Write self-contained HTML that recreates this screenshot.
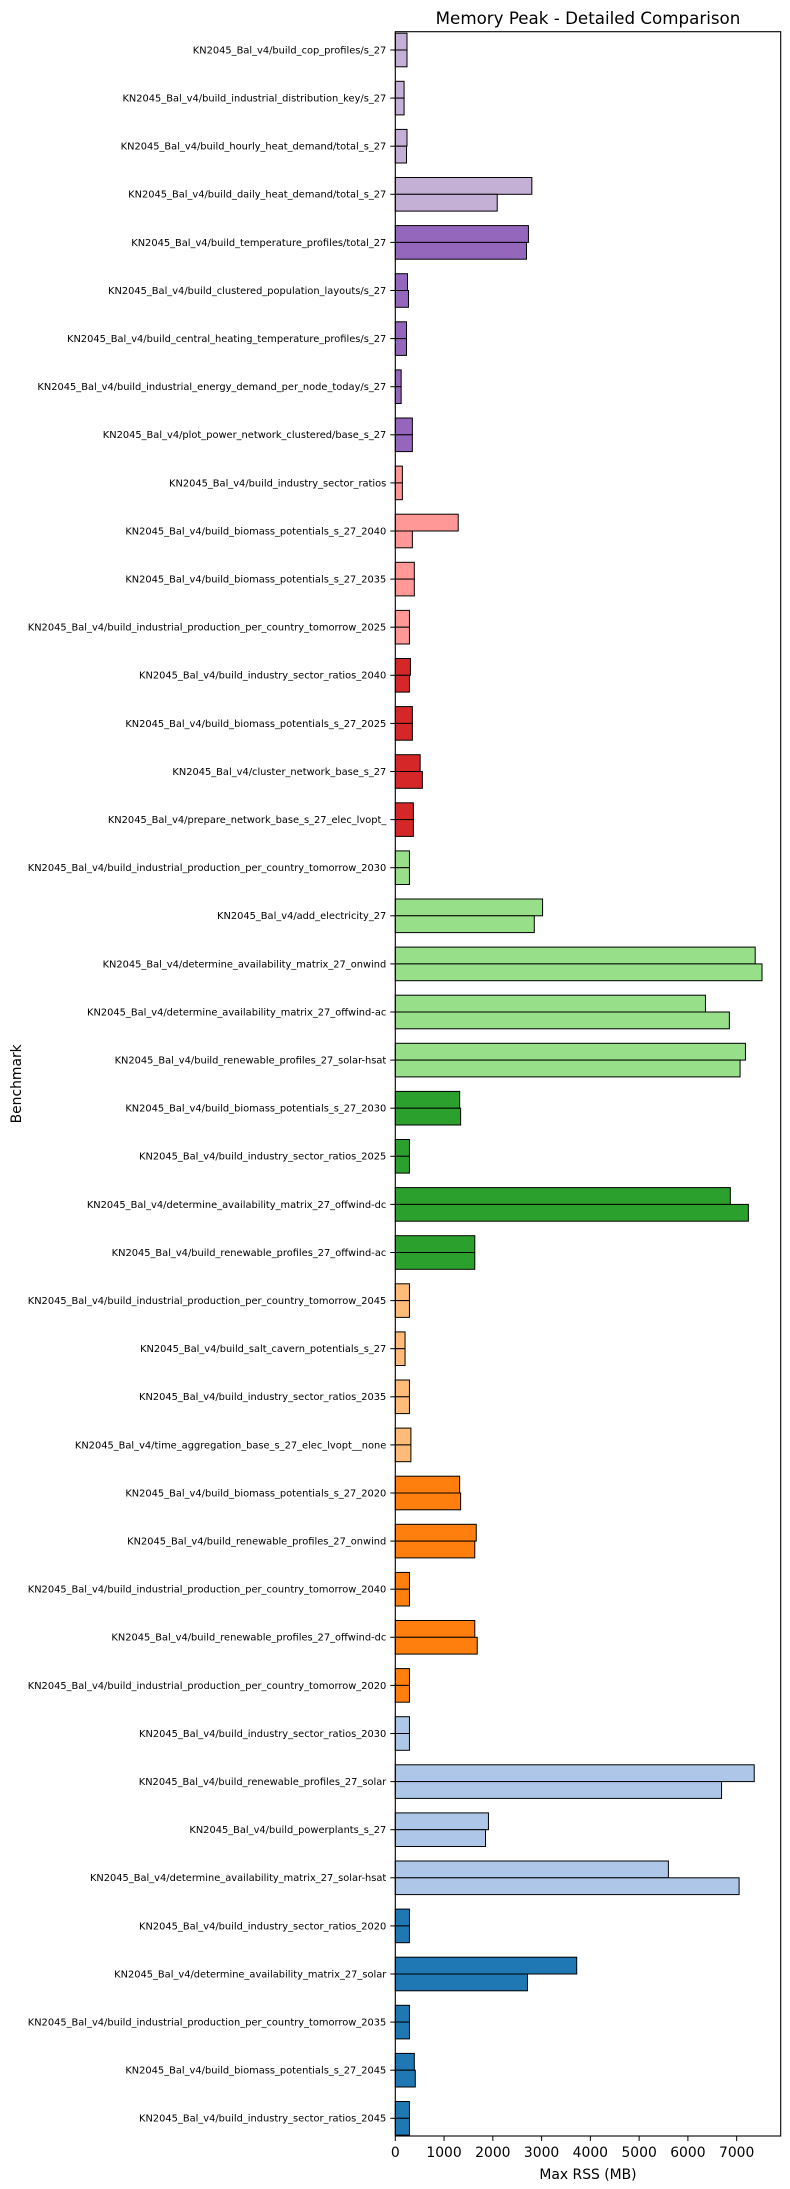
<!DOCTYPE html>
<html><head><meta charset="utf-8"><style>
body{margin:0;background:#fff;}
svg{display:block;font-family:"DejaVu Sans","Liberation Sans",sans-serif;}
</style></head><body>
<svg id="chart" width="790" height="2189" viewBox="0 0 790 2189" xmlns="http://www.w3.org/2000/svg"></svg>
<script>
const categories = [
"KN2045_Bal_v4/build_cop_profiles/s_27",
"KN2045_Bal_v4/build_industrial_distribution_key/s_27",
"KN2045_Bal_v4/build_hourly_heat_demand/total_s_27",
"KN2045_Bal_v4/build_daily_heat_demand/total_s_27",
"KN2045_Bal_v4/build_temperature_profiles/total_27",
"KN2045_Bal_v4/build_clustered_population_layouts/s_27",
"KN2045_Bal_v4/build_central_heating_temperature_profiles/s_27",
"KN2045_Bal_v4/build_industrial_energy_demand_per_node_today/s_27",
"KN2045_Bal_v4/plot_power_network_clustered/base_s_27",
"KN2045_Bal_v4/build_industry_sector_ratios",
"KN2045_Bal_v4/build_biomass_potentials_s_27_2040",
"KN2045_Bal_v4/build_biomass_potentials_s_27_2035",
"KN2045_Bal_v4/build_industrial_production_per_country_tomorrow_2025",
"KN2045_Bal_v4/build_industry_sector_ratios_2040",
"KN2045_Bal_v4/build_biomass_potentials_s_27_2025",
"KN2045_Bal_v4/cluster_network_base_s_27",
"KN2045_Bal_v4/prepare_network_base_s_27_elec_lvopt_",
"KN2045_Bal_v4/build_industrial_production_per_country_tomorrow_2030",
"KN2045_Bal_v4/add_electricity_27",
"KN2045_Bal_v4/determine_availability_matrix_27_onwind",
"KN2045_Bal_v4/determine_availability_matrix_27_offwind-ac",
"KN2045_Bal_v4/build_renewable_profiles_27_solar-hsat",
"KN2045_Bal_v4/build_biomass_potentials_s_27_2030",
"KN2045_Bal_v4/build_industry_sector_ratios_2025",
"KN2045_Bal_v4/determine_availability_matrix_27_offwind-dc",
"KN2045_Bal_v4/build_renewable_profiles_27_offwind-ac",
"KN2045_Bal_v4/build_industrial_production_per_country_tomorrow_2045",
"KN2045_Bal_v4/build_salt_cavern_potentials_s_27",
"KN2045_Bal_v4/build_industry_sector_ratios_2035",
"KN2045_Bal_v4/time_aggregation_base_s_27_elec_lvopt__none",
"KN2045_Bal_v4/build_biomass_potentials_s_27_2020",
"KN2045_Bal_v4/build_renewable_profiles_27_onwind",
"KN2045_Bal_v4/build_industrial_production_per_country_tomorrow_2040",
"KN2045_Bal_v4/build_renewable_profiles_27_offwind-dc",
"KN2045_Bal_v4/build_industrial_production_per_country_tomorrow_2020",
"KN2045_Bal_v4/build_industry_sector_ratios_2030",
"KN2045_Bal_v4/build_renewable_profiles_27_solar",
"KN2045_Bal_v4/build_powerplants_s_27",
"KN2045_Bal_v4/determine_availability_matrix_27_solar-hsat",
"KN2045_Bal_v4/build_industry_sector_ratios_2020",
"KN2045_Bal_v4/determine_availability_matrix_27_solar",
"KN2045_Bal_v4/build_industrial_production_per_country_tomorrow_2035",
"KN2045_Bal_v4/build_biomass_potentials_s_27_2045",
"KN2045_Bal_v4/build_industry_sector_ratios_2045"];
const runA = [240,180,240,2800,2730,250,230,120,350,145,1290,390,290,310,350,510,370,290,3020,7380,6360,7180,1320,290,6870,1630,290,200,290,320,1320,1660,290,1630,290,290,7360,1910,5600,290,3720,290,390,290];
const runB = [240,180,230,2090,2690,270,230,120,350,145,350,390,290,290,350,555,370,290,2850,7520,6850,7070,1340,290,7240,1630,290,200,290,320,1340,1630,290,1680,290,290,6690,1850,7050,290,2710,290,410,290];
const rowColors = ["#c5b0d5","#c5b0d5","#c5b0d5","#c5b0d5","#9467bd","#9467bd","#9467bd","#9467bd","#9467bd","#ff9896","#ff9896","#ff9896","#ff9896","#d62728","#d62728","#d62728","#d62728","#98df8a","#98df8a","#98df8a","#98df8a","#98df8a","#2ca02c","#2ca02c","#2ca02c","#2ca02c","#ffbb78","#ffbb78","#ffbb78","#ffbb78","#ff7f0e","#ff7f0e","#ff7f0e","#ff7f0e","#ff7f0e","#aec7e8","#aec7e8","#aec7e8","#aec7e8","#1f77b4","#1f77b4","#1f77b4","#1f77b4","#1f77b4"];
const xTicks = [0,1000,2000,3000,4000,5000,6000,7000];

const svg = document.getElementById('chart');
const NS = 'http://www.w3.org/2000/svg';
const L = 395.3, R = 780.7, T = 31.7, B = 2136;
const xMax = 7903;
const x = v => L + v / xMax * (R - L);
const y = i => 50 + i * 48.1;
const barH = 16.8;
function mk(tag, attrs, parent) {
  const e = document.createElementNS(NS, tag);
  for (const k in attrs) e.setAttribute(k, attrs[k]);
  (parent || svg).appendChild(e);
  return e;
}
categories.forEach((c, i) => {
  const cy = y(i);
  const ra = mk('rect', {x: x(0), y: cy - barH, width: x(runA[i]) - x(0), height: barH, fill: rowColors[i], stroke: '#000', 'stroke-width': 1});
  
  
  const rb = mk('rect', {x: x(0), y: cy, width: x(runB[i]) - x(0), height: barH, fill: rowColors[i], stroke: '#000', 'stroke-width': 1});
  
  
  const tk = mk('line', {x1: L - 5, x2: L, y1: cy, y2: cy, stroke: '#000', 'stroke-width': 1});
  
  
  const t = mk('text', {x: L - 9, y: cy + 3.4, 'text-anchor': 'end', 'font-size': '9.85px', fill: '#000'});
  t.textContent = c;
  
  
});
const frame = mk('rect', {x: L, y: T, width: R - L, height: B - T, fill: 'none', stroke: '#000', 'stroke-width': 1.1});


xTicks.forEach(v => {
  const tk = mk('line', {x1: x(v), x2: x(v), y1: B, y2: B + 5, stroke: '#000', 'stroke-width': 1});
  
  
  const t = mk('text', {x: x(v), y: B + 21, 'text-anchor': 'middle', 'font-size': '13.9px', fill: '#000'});
  t.textContent = v;
  
  
});
const xl = mk('text', {x: (L + R) / 2, y: B + 43, 'text-anchor': 'middle', 'font-size': '13.9px', fill: '#000'});
xl.textContent = 'Max RSS (MB)';


const yl = mk('text', {x: 0, y: 0, 'text-anchor': 'middle', 'font-size': '13.9px', fill: '#000', transform: 'translate(21,' + ((T + B) / 2) + ') rotate(-90)'});
yl.textContent = 'Benchmark';


const ti = mk('text', {x: (L + R) / 2, y: 24, 'text-anchor': 'middle', 'font-size': '16.7px', fill: '#000'});
ti.textContent = 'Memory Peak - Detailed Comparison';


</script>
</body></html>
